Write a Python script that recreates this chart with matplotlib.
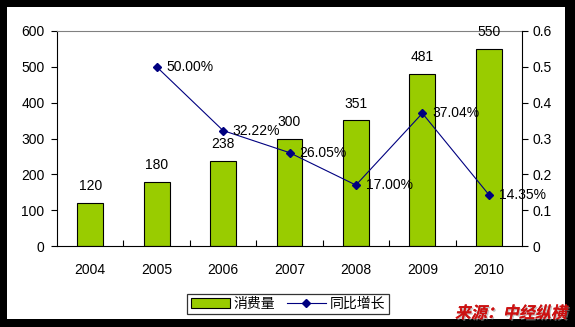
import matplotlib
matplotlib.use("Agg")
import matplotlib.pyplot as plt
from matplotlib.lines import Line2D
from matplotlib.patches import Patch, Rectangle
from matplotlib.transforms import Affine2D
import matplotlib.patheffects as pe

plt.rcParams['font.family'] = ['Liberation Sans', 'Noto Sans CJK SC', 'DejaVu Sans']

years = ['2004', '2005', '2006', '2007', '2008', '2009', '2010']
consumption = [120, 180, 238, 300, 351, 481, 550]
growth_years = ['2005', '2006', '2007', '2008', '2009', '2010']
growth = [0.5000, 0.3222, 0.2605, 0.1700, 0.3704, 0.1435]


class Slant(pe.AbstractPathEffect):
    """Fake oblique for fonts without an italic face."""

    def __init__(self, angle=12, inner=None):
        super().__init__()
        self.angle = angle
        self.inner = inner

    def draw_path(self, renderer, gc, tpath, affine, rgbFace=None):
        affine = Affine2D().skew_deg(self.angle, 0) + affine
        if self.inner is not None:
            self.inner.draw_path(renderer, gc, tpath, affine, rgbFace)
        else:
            renderer.draw_path(gc, tpath, affine, rgbFace)


W, H = 575, 327
fig = plt.figure(figsize=(W / 100, H / 100), dpi=100)
fig.patch.set_facecolor('black')
# white card inside the black frame
fig.patches.append(Rectangle((7 / W, 8 / H), (565 - 7) / W, (320 - 8) / H,
                             transform=fig.transFigure, facecolor='white',
                             edgecolor='none', zorder=-5))

left, right, top, bottom = 57, 522, 31, 246
ax = fig.add_axes([left / W, 1 - bottom / H, (right - left) / W, (bottom - top) / H])
ax.set_facecolor('none')

x = list(range(len(years)))
bars = ax.bar(x, consumption, width=0.39, color='#99CC00', edgecolor='black',
              linewidth=0.8, zorder=2)
for xi, v in zip(x, consumption):
    ax.annotate(str(v), (xi, v), xytext=(0, 12), textcoords='offset points',
                ha='center', va='center', fontsize=10, color='black', zorder=5)

ax.set_xlim(-0.5, len(years) - 0.5)
ax.set_ylim(0, 600)
ax.set_yticks(range(0, 601, 100))
ax.set_xticks(x)
ax.set_xticklabels(years, fontsize=10)
ax.set_xticks([i + 0.5 for i in x[:-1]], minor=True)
ax.tick_params(axis='x', which='major', length=0, pad=12)
ax.tick_params(axis='x', which='minor', direction='in', length=4, width=0.8)
ax.tick_params(axis='y', direction='out', length=4, width=0.8, labelsize=10, pad=5)
ax.spines['top'].set_color('#808080')
ax.spines['right'].set_visible(False)
for s in ('left', 'bottom'):
    ax.spines[s].set_linewidth(0.8)

ax2 = ax.twinx()
ax2.set_ylim(0, 0.6)
ax2.set_yticks([i / 10 for i in range(7)])
ax2.set_yticklabels(['0'] + [f'{i / 10:.1f}' for i in range(1, 7)])
ax2.tick_params(axis='y', direction='out', length=4, width=0.8, labelsize=10, pad=3.5)
for s in ('top', 'left', 'bottom'):
    ax2.spines[s].set_visible(False)
ax2.spines['right'].set_linewidth(0.8)

gx = [years.index(y) for y in growth_years]
ax2.plot(gx, growth, color='#000080', linewidth=0.8, marker='D', markersize=4.5,
         zorder=4)
for xi, g in zip(gx, growth):
    ax2.annotate(f'{g * 100:.2f}%', (xi, g), xytext=(7, 0), textcoords='offset points',
                 ha='left', va='center', fontsize=10, color='black', zorder=5)

handles = [Patch(facecolor='#99CC00', edgecolor='black', linewidth=0.8),
           Line2D([], [], color='#000080', linewidth=0.8, marker='D', markersize=4.5)]
leg = fig.legend(handles, ['消费量', '同比增长'], loc='center',
                 bbox_to_anchor=(288 / W, 1 - 304 / H), ncol=2, frameon=True,
                 fancybox=False, edgecolor='black', fontsize=10, handlelength=2.8,
                 handleheight=0.8, handletextpad=0.3, columnspacing=0.8,
                 borderpad=0.25, borderaxespad=0)
leg.get_frame().set_linewidth(0.9)
for t in leg.get_texts():
    t.set_family(['Noto Sans CJK SC', 'DejaVu Sans'])

fig.text(511 / W, 1 - 313 / H, '来源：中经纵横', ha='center', va='center',
         fontsize=11.5, fontweight='bold', color='#CC1111',
         family=['Noto Sans CJK SC', 'DejaVu Sans'],
         path_effects=[Slant(12, pe.withSimplePatchShadow(offset=(1, -1), shadow_rgbFace='#999999', alpha=0.6)),
                       Slant(12)])

fig.savefig('out.png', dpi=100, facecolor=fig.get_facecolor())
